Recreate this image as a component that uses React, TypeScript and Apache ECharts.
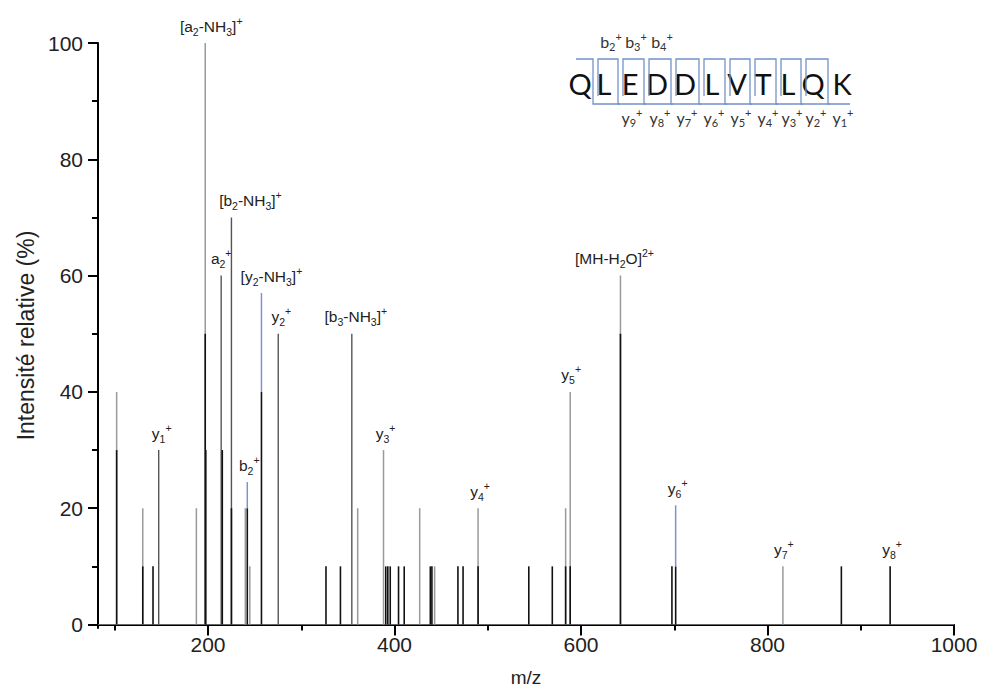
import React, { useEffect, useRef } from 'react';
import * as echarts from 'echarts';

// ---- spectrum data (m/z, relative intensity %) ----
const lightMz = [102, 130, 187.5, 197, 240, 244.8, 360.5, 388.2, 427, 443, 489.6, 583.5, 588.4, 642.3, 816.5];
const lightInt = [40, 20, 20, 100, 20, 10, 20, 30, 20, 10, 20, 20, 40, 60, 10];

const midMz = [147.1, 214.1, 225.1, 275.3, 354.2];
const midInt = [30, 60, 70, 50, 50];

const darkMz = [102, 130, 141, 197, 197.6, 215.3, 225.1, 242.1, 257.3, 326.5, 342, 390.6, 392.8, 395.4, 404.3, 410.4, 438.4, 440.1, 468, 473.5, 489.6, 544, 569.2, 583.5, 588.4, 642.3, 697.5, 701.5, 879.2, 931.5];
const darkInt = [30, 10, 10, 50, 30, 30, 20, 20, 40, 10, 10, 10, 10, 10, 10, 10, 10, 10, 10, 10, 10, 10, 10, 10, 10, 50, 10, 10, 10, 10];

// blue (annotated) segments on top of peaks
const blueMz = [242.1, 257.3, 701.5];
const blueFrom = [20, 40, 10];
const blueTo = [24.5, 57, 20.5];

const baselineMz = [82, 1000];

// axes ticks
const xTickLabels = [200, 400, 600, 800, 1000];
const xMinorTicks = [100, 300, 500, 700, 900];
const yTickLabels = [0, 20, 40, 60, 80, 100];
const yMinorTicks = [10, 30, 50, 70, 90];

// ion annotations
const ionMz = [197, 214.1, 225.1, 257.3, 275.3, 354.2, 147.1, 242.1, 388.2, 489.6, 588.4, 642.3, 701.5, 816.5, 931.5];
const ionTop = [100, 60, 70, 57, 50, 50, 30, 24.5, 30, 20, 40, 60, 20.5, 10, 10];
const ionText = [
  '[a{s|2}-NH{s|3}]{p|+}',
  'a{s|2}{p|+}',
  '[b{s|2}-NH{s|3}]{p|+}',
  '[y{s|2}-NH{s|3}]{p|+}',
  'y{s|2}{p|+}',
  '[b{s|3}-NH{s|3}]{p|+}',
  'y{s|1}{p|+}',
  'b{s|2}{p|+}',
  'y{s|3}{p|+}',
  'y{s|4}{p|+}',
  'y{s|5}{p|+}',
  '[MH-H{s|2}O]{p|2+}',
  'y{s|6}{p|+}',
  'y{s|7}{p|+}',
  'y{s|8}{p|+}',
];
const ionNudge = [6, 0, 19, 10, 3, 4, 3, 2, 2, 2, 1, -6, 2, 1, 2];

// peptide sequence scheme
const peptide = 'QLEDDLVTLQK';
const bLabels = ['b{s|2}{p|+}', 'b{s|3}{p|+}', 'b{s|4}{p|+}'];
const yLabels = ['y{s|9}{p|+}', 'y{s|8}{p|+}', 'y{s|7}{p|+}', 'y{s|6}{p|+}', 'y{s|5}{p|+}', 'y{s|4}{p|+}', 'y{s|3}{p|+}', 'y{s|2}{p|+}', 'y{s|1}{p|+}'];

const FONT = '"Liberation Sans", Arial, sans-serif';
const SEQFONT = 'Lato, "Open Sans", sans-serif';

const richSmall = {
  s: { fontSize: 10.5, verticalAlign: 'bottom', fontFamily: FONT, fill: '#222' },
  p: { fontSize: 10.5, verticalAlign: 'top', fontFamily: FONT, fill: '#222' },
};
const richSeq = {
  s: { fontSize: 11, verticalAlign: 'bottom', fontFamily: SEQFONT, fill: '#333' },
  p: { fontSize: 11, verticalAlign: 'top', fontFamily: SEQFONT, fill: '#333' },
};

function stickSeries(mz: number[], from: number[], to: number[], color: string, width: number, z: number) {
  return {
    type: 'custom',
    coordinateSystem: 'cartesian2d',
    xAxisIndex: 0,
    yAxisIndex: 0,
    silent: true,
    z,
    data: mz.map((m, i) => [m, from[i], to[i]]),
    renderItem: (_params: any, api: any) => {
      const a = api.coord([api.value(0), api.value(1)]);
      const b = api.coord([api.value(0), api.value(2)]);
      return {
        type: 'line',
        shape: { x1: a[0], y1: a[1], x2: b[0], y2: b[1] },
        style: { stroke: color, lineWidth: width },
      };
    },
  };
}

function buildScheme() {
  const letterX = [580, 604, 630, 657, 685, 712, 737, 763, 788, 813, 842];
  const gaps = [593, 618, 644, 671, 699, 725, 750, 776, 801, 828];
  const blue = '#7393c9';
  const els: any[] = [];
  peptide.split('').forEach((ch, i) => {
    els.push({
      type: 'text',
      x: letterX[i],
      y: 83,
      style: { text: ch, font: `29px ${SEQFONT}`, fill: '#111', align: 'center', verticalAlign: 'middle' },
    });
  });
  gaps.forEach((g, i) => {
    const pts: number[][] = [];
    if (i === 0) pts.push([576, 59]);
    else {
      pts.push([gaps[i - 1] + 5, 96]);
      pts.push([gaps[i - 1] + 5, 59]);
    }
    pts.push([g, 59]);
    pts.push([g, 104]);
    pts.push([i === gaps.length - 1 ? 850 : gaps[i + 1] + 2, 104]);
    els.push({
      type: 'polyline',
      shape: { points: pts },
      style: { stroke: blue, lineWidth: 1.3, fill: null },
    });
  });
  const bX = [611, 636, 662];
  bLabels.forEach((t, i) => {
    els.push({
      type: 'text',
      x: bX[i],
      y: 41,
      style: { text: t, fontFamily: SEQFONT, fontSize: 16, fill: '#333', align: 'center', verticalAlign: 'middle', lineHeight: 21, rich: richSeq },
    });
  });
  const yX = [632, 660, 687, 714, 741, 768, 792, 816, 843];
  yLabels.forEach((t, i) => {
    els.push({
      type: 'text',
      x: yX[i],
      y: 117,
      style: { text: t, fontFamily: SEQFONT, fontSize: 16, fill: '#333', align: 'center', verticalAlign: 'middle', lineHeight: 21, rich: richSeq },
    });
  });
  return els;
}

export default function App() {
  const ref = useRef<HTMLDivElement>(null);
  useEffect(() => {
    if (!ref.current) return;
    const chart = echarts.init(ref.current, null, { renderer: 'svg' });
    const zeros = (a: number[]) => a.map(() => 0);
    const axisCommon = {
      type: 'value',
      min: 82,
      max: 1000,
      splitLine: { show: false },
    };
    chart.setOption({
      animation: false,
      backgroundColor: '#fff',
      grid: { left: 98, right: 27, top: 43, bottom: 63, containLabel: false, outerBoundsMode: 'none' },
      xAxis: [
        {
          ...axisCommon,
          position: 'bottom',
          axisLine: { show: true, lineStyle: { color: '#000', width: 2 } },
          axisTick: { show: true, length: 11, customValues: xTickLabels, lineStyle: { color: '#000', width: 2 } },
          axisLabel: {
            customValues: xTickLabels,
            formatter: (v: number) => String(v),
            fontSize: 21,
            color: '#222',
            fontFamily: FONT,
            margin: 6,
          },
          name: 'm/z',
          nameLocation: 'middle',
          nameGap: 40,
          nameTextStyle: { fontSize: 19, color: '#222', fontFamily: FONT },
        },
        {
          ...axisCommon,
          position: 'bottom',
          axisLine: { show: false },
          axisTick: { show: true, length: 6, customValues: xMinorTicks, lineStyle: { color: '#000', width: 2 } },
          axisLabel: { show: false },
        },
      ],
      yAxis: [
        {
          type: 'value',
          min: -0.6,
          max: 100,
          position: 'left',
          splitLine: { show: false },
          axisLine: { show: true, lineStyle: { color: '#000', width: 2 } },
          axisTick: { show: true, length: 10, customValues: yTickLabels, lineStyle: { color: '#000', width: 2 } },
          axisLabel: { customValues: yTickLabels, fontSize: 21, color: '#222', fontFamily: FONT, margin: 15 },
          name: 'Intensité relative (%)',
          nameLocation: 'middle',
          nameGap: 61,
          nameTextStyle: { fontSize: 23, color: '#222', fontFamily: FONT },
        },
        {
          type: 'value',
          min: -0.6,
          max: 100,
          position: 'left',
          splitLine: { show: false },
          axisLine: { show: false },
          axisTick: { show: true, length: 6, customValues: yMinorTicks, lineStyle: { color: '#000', width: 2 } },
          axisLabel: { show: false },
        },
      ],
      series: [
        {
          type: 'line',
          xAxisIndex: 0,
          yAxisIndex: 0,
          data: baselineMz.map((m) => [m, 0]),
          symbol: 'none',
          silent: true,
          lineStyle: { color: '#666', width: 1 },
          z: 1,
        },
        stickSeries(lightMz, zeros(lightMz), lightInt, '#9a9a9a', 1.5, 2),
        stickSeries(midMz, zeros(midMz), midInt, '#555', 1.4, 3),
        stickSeries(darkMz, zeros(darkMz), darkInt, '#111', 1.6, 4),
        stickSeries(blueMz, blueFrom, blueTo, '#7f90d8', 1.5, 5),
        {
          type: 'custom',
          coordinateSystem: 'cartesian2d',
          xAxisIndex: 0,
          yAxisIndex: 0,
          silent: true,
          z: 6,
          data: ionMz.map((m, i) => [m, ionTop[i]]),
          renderItem: (params: any, api: any) => {
            const p = api.coord([api.value(0), api.value(1)]);
            const i = params.dataIndex;
            return {
              type: 'text',
              x: p[0] + ionNudge[i],
              y: p[1] - 6,
              style: {
                text: ionText[i],
                fontFamily: FONT,
                fontSize: 15.5,
                fill: '#222',
                align: 'center',
                verticalAlign: 'bottom',
                lineHeight: 22,
                rich: richSmall,
              },
            };
          },
        },
      ],
      graphic: buildScheme(),
    });
    return () => chart.dispose();
  }, []);
  return <div ref={ref} style={{ position: 'fixed', left: 0, top: 0, width: 981, height: 691, background: '#fff' }} />;
}
